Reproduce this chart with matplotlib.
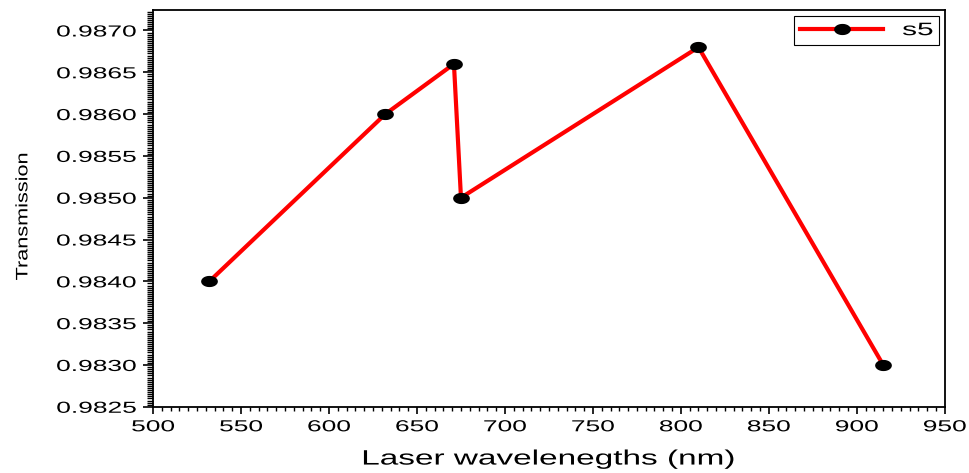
import numpy as np
import matplotlib
matplotlib.use("Agg")
import matplotlib.pyplot as plt
from matplotlib.path import Path
from matplotlib.patheffects import AbstractPathEffect
from matplotlib.transforms import Affine2D
from matplotlib.ticker import MultipleLocator, AutoMinorLocator, FormatStrFormatter

# figure data
wavelengths = [532, 632, 671, 675, 810, 915]
transmission = [0.9840, 0.9860, 0.9866, 0.9850, 0.9868, 0.9830]
series_name = "s5"

plt.rcParams['font.family'] = ['Liberation Sans', 'DejaVu Sans']


# the original picture is stretched sideways, so widen the glyphs to match
class Stretch(AbstractPathEffect):
    def __init__(self, sx, anchor=0.5):
        super().__init__()
        self.sx = sx
        self.anchor = anchor

    def draw_path(self, renderer, gc, tpath, affine, rgbFace=None):
        ext = tpath.get_extents()
        x0 = ext.x0 + self.anchor * ext.width
        pre = Affine2D().translate(-x0, 0).scale(self.sx, 1).translate(x0, 0)
        renderer.draw_path(gc, tpath, pre + affine, rgbFace)


# flattened ellipse marker
t = np.linspace(0, 2 * np.pi, 60)
ellipse = Path(np.column_stack([np.cos(t), 0.64 * np.sin(t)]), closed=True)

fig = plt.figure(figsize=(9.69, 4.73), dpi=100)
ax = fig.add_axes([0.158, 0.14, 0.817, 0.838])

ax.plot(wavelengths, transmission, color='red', lw=3,
        marker=ellipse, markersize=11, markerfacecolor='black',
        markeredgecolor='black', label=series_name)

ax.set_xlim(500, 950)
ax.set_ylim(0.9825, 0.98724)
ax.xaxis.set_major_locator(MultipleLocator(50))
ax.xaxis.set_minor_locator(AutoMinorLocator(10))
ax.yaxis.set_major_locator(MultipleLocator(0.0005))
ax.yaxis.set_minor_locator(AutoMinorLocator(20))
ax.yaxis.set_major_formatter(FormatStrFormatter('%.4f'))

ax.tick_params(which='major', direction='out', width=1.2, labelsize=11.5)
ax.tick_params(axis='x', which='major', length=5, pad=4)
ax.tick_params(axis='x', which='minor', length=3.2, width=1)
ax.tick_params(axis='y', which='major', length=7, pad=5)
ax.tick_params(axis='y', which='minor', length=4.3, width=1)
for s in ax.spines.values():
    s.set_linewidth(1.3)

fig.canvas.draw()
for lab in ax.get_xticklabels():
    lab.set_path_effects([Stretch(1.65, 0.5)])
for lab in ax.get_yticklabels():
    lab.set_path_effects([Stretch(1.65, 1.0)])

xl = ax.set_xlabel('Laser wavelenegths (nm)', fontsize=15, labelpad=11)
xl.set_path_effects([Stretch(1.6, 0.5)])
yl = ax.set_ylabel('Transmission', fontsize=12)
yl.set_path_effects([Stretch(1.3, 0.5)])
ax.yaxis.set_label_coords(-0.155, 0.48)

leg = ax.legend(loc='upper right', fontsize=13, fancybox=False, framealpha=1,
                edgecolor='black', handlelength=4.6, handletextpad=1.7,
                borderpad=0.35, borderaxespad=0.3)
leg.get_frame().set_linewidth(0.8)
for txt in leg.get_texts():
    txt.set_path_effects([Stretch(1.65, 1.0)])

plt.savefig('out.png', dpi=100)
